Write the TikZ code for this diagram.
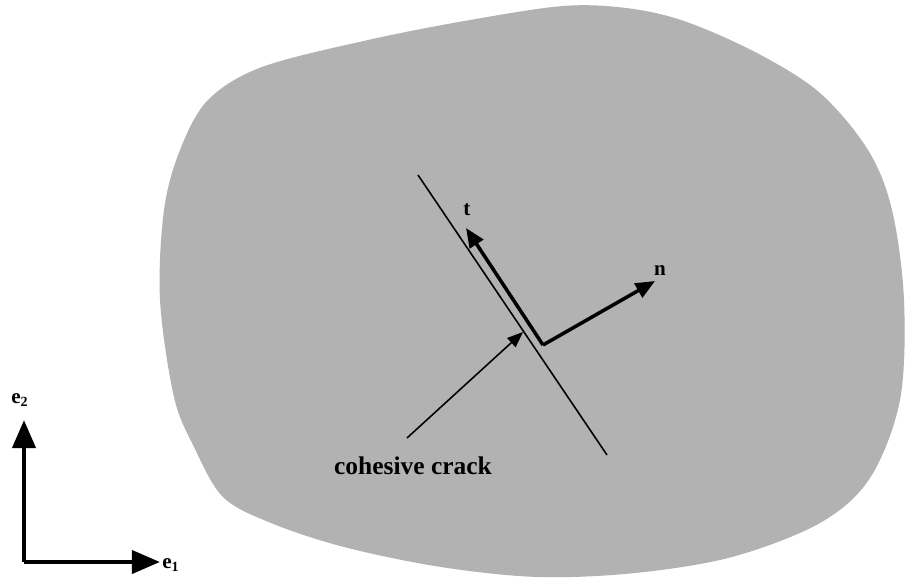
\documentclass[tikz,border=0pt]{standalone}
\usepackage{fontspec}
\setmainfont{Liberation Serif}
\usetikzlibrary{arrows.meta, positioning, calc}
\definecolor{bodygray}{RGB}{178,178,178}

\begin{document}
\begin{tikzpicture}[
        x=0.02cm, y=-0.02cm,
        body/.style={fill=bodygray, draw=none},
        crackline/.style={line width=0.9pt},
        vector/.style={-{Triangle[length=11pt, width=9pt]}, line width=2pt},
        axis/.style={-{Triangle[length=16pt, width=13pt]}, line width=2.6pt},
        leader/.style={-{Triangle[length=9pt, width=7pt]}, line width=0.9pt},
        lbl/.style={font=\bfseries\fontsize{12}{14}\selectfont, inner sep=1pt}
    ]
        \useasboundingbox (0,0) rectangle (912,582);

        % Koerper
        \draw[body] plot[smooth cycle, tension=0.55] coordinates {
            (262,67) (368,40) (470,20) (563,6) (626,8) (684,21) (757,53)
            (820,93) (868,150) (892,210) (904,300) (900,400) (870,478)
            (820,523) (732,557) (635,573) (538,577) (441,567) (344,547)
            (271,523) (223,497) (194,447) (174,397) (160,300) (164,210)
            (180,150) (208,100)};

        % Riss
        \coordinate (crackA) at (418,175);
        \coordinate (crackB) at (607,455);
        \draw[crackline] (crackA) -- (crackB);

        % Basisvektoren am Riss
        \coordinate (corner) at (543,345);
        \coordinate (ttip) at (466,228);
        \coordinate (ntip) at (655,281);
        \draw[vector] (corner) -- (ttip);
        \draw[vector] (corner) -- (ntip);
        \node[lbl] (tlabel) at (467,210) {t};
        \node[lbl] (nlabel) at (660,271) {n};

        % Beschriftung
        \node[lbl, font=\bfseries\fontsize{14.5}{17}\selectfont] (cracklabel) at (413,466) {cohesive crack};
        \coordinate (leadstart) at (407,438);
        \coordinate (leadtip) at (523,332);
        \draw[leader] (leadstart) -- (leadtip);

        % Koordinatensystem
        \coordinate (origin) at (24,562);
        \coordinate (etwo) at (24,420);
        \coordinate (eone) at (160,562);
        \draw[axis] (origin) -- (etwo);
        \draw[axis] (origin) -- (eone);
        \node[lbl] (etwolabel) at (20,400) {e$_{\mathbf{2}}$};
        \node[lbl] (eonelabel) at (171,565) {e$_{\mathbf{1}}$};
    \end{tikzpicture}
\end{document}
